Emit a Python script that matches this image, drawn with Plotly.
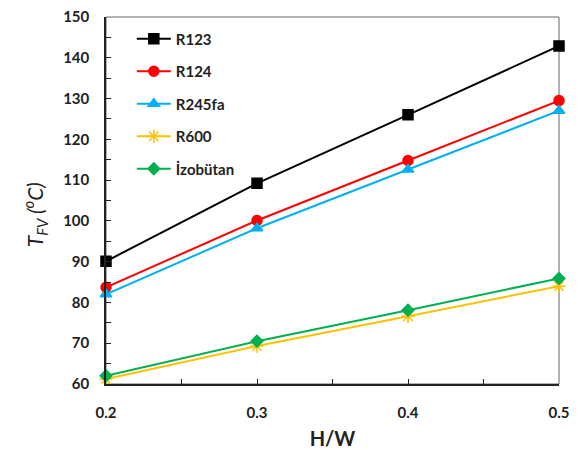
import plotly.graph_objects as go

hw = [0.2, 0.3, 0.4, 0.5]
r123 = [90.1, 109.2, 126.0, 142.9]
r124 = [83.7, 100.1, 114.8, 129.5]
r245fa = [82.0, 98.2, 112.6, 127.0]
r600 = [61.2, 69.3, 76.6, 84.0]
izobutan = [62.0, 70.5, 78.1, 85.9]

series = [
    ("R123", r123, "#000000", "square", 10),
    ("R124", r124, "#FF0000", "circle", 10),
    ("R245fa", r245fa, "#00B0F0", "triangle-up", 10),
    ("R600", r600, "#FFC000", "asterisk-open", 11),
    ("İzobütan", izobutan, "#00B050", "diamond", 9),
]

fig = go.Figure()
for i, (name, vals, col, sym, sz) in enumerate(series):
    fig.add_trace(go.Scatter(
        x=hw, y=vals, name=name, mode="lines+markers",
        line=dict(color=col, width=2),
        marker=dict(symbol=sym, size=sz, color=col, line=dict(color=col, width=1.5)),
        cliponaxis=False, legendgroup=str(i)))

font = "Lato, 'Open Sans', sans-serif"
fig.update_layout(
    width=585, height=450,
    margin=dict(l=98, r=34, t=9, b=74, autoexpand=False),
    paper_bgcolor="white", plot_bgcolor="white",
    font=dict(family=font, color="#222222"),
    showlegend=True,
    legend=dict(x=0.057, y=0.985, xanchor="left", yanchor="top",
                font=dict(size=15, family=font, weight="bold", color="#222222"),
                bgcolor="rgba(0,0,0,0)", tracegroupgap=10, traceorder="grouped",
                itemwidth=34),
    xaxis=dict(range=[0.2, 0.5], tickvals=[0.2, 0.3, 0.4, 0.5], ticktext=["0.2", "0.3", "0.4", "0.5"],
               automargin=False, ticklabeloverflow="allow",
               showgrid=False, zeroline=False, showline=True, linecolor="#222222", linewidth=1.5,
               mirror=False, ticks="inside", ticklen=5, tickcolor="#222222",
               minor=dict(tickvals=[0.25, 0.35, 0.45], ticks="inside", ticklen=5, tickcolor="#222222"),
               ticklabelstandoff=14,
               tickfont=dict(size=15, weight="bold", color="#222222"),
               title=dict(text="<b>H/W</b>", font=dict(size=20, color="#222222"), standoff=12)),
    yaxis=dict(range=[60, 150], tickvals=list(range(60, 151, 10)),
               automargin=False, ticklabeloverflow="allow",
               showgrid=False, zeroline=False, showline=True, linecolor="#222222", linewidth=1.5,
               ticks="inside", ticklen=5, tickcolor="#222222",
               minor=dict(tickvals=list(range(65, 150, 10)), ticks="inside", ticklen=5, tickcolor="#222222"),
               ticklabelstandoff=12,
               tickfont=dict(size=15, weight="bold", color="#222222")),
    annotations=[dict(text="<i>T<sub>FV</sub> (<sup>o</sup>C)</i>", xref="paper", yref="paper",
                      x=-0.157, y=0.462, xanchor="center", yanchor="middle", textangle=-90,
                      showarrow=False, font=dict(size=21, color="#222222", family=font))],
)
fig.add_shape(type="rect", xref="paper", yref="paper", x0=0, y0=0, x1=1, y1=1,
              line=dict(color="#666666", width=1), layer="below")

fig.write_html("out.html")
